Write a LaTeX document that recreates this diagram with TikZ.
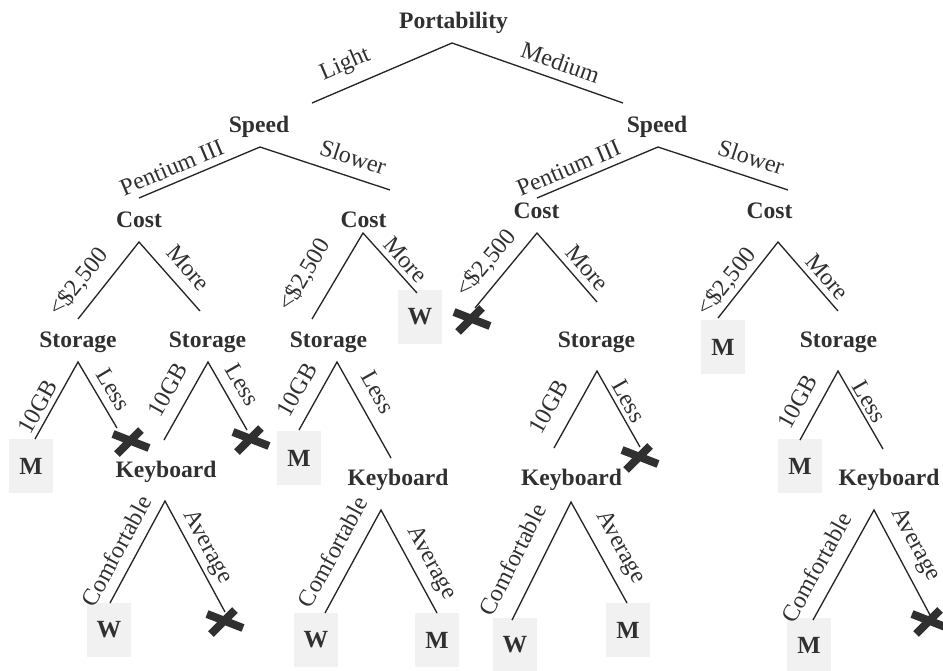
\documentclass[tikz,border=0pt]{standalone}
\usepackage{fontspec}
\setmainfont{Liberation Serif}
\usepackage{xcolor}
\definecolor{ink}{HTML}{303030}
\definecolor{wire}{HTML}{262626}
\definecolor{leafgray}{HTML}{F1F1F1}

\begin{document}
\begin{tikzpicture}[x=0.75pt,y=-0.75pt,
  attr/.style={anchor=base,inner sep=0pt,text=ink,font=\bfseries\fontsize{17.7}{20}\selectfont},
  leaf/.style={fill=leafgray,minimum width=33pt,minimum height=40pt,inner sep=0pt,text=ink,font=\bfseries\fontsize{18.5}{20}\selectfont},
  branch/.style={draw=wire,line width=1pt},
  lbl/.style={sloped,inner sep=2pt,text=ink,font=\fontsize{18}{20}\selectfont},
  nogo/.pic={\draw[ink,line width=6pt] (-18,-8)--(18,6) (-14,12)--(10,-12);}]
\useasboundingbox (0,0) rectangle (943,671);

\node[attr] (root) at (453.5,28) {Portability};
\node[attr] (spdL) at (259,132) {Speed}; \node[attr] (spdR) at (657,132) {Speed};
\node[attr] (costLL) at (139,227) {Cost}; \node[attr] (costLR) at (363.5,227) {Cost};
\node[attr] (costRL) at (536.5,218) {Cost}; \node[attr] (costRR) at (769.5,218) {Cost};
\node[attr] (stoA) at (78,347) {Storage}; \node[attr] (stoB) at (207.5,347) {Storage};
\node[attr] (stoC) at (328.5,347) {Storage}; \node[attr] (stoD) at (596.5,347) {Storage};
\node[attr] (stoE) at (838.5,347) {Storage};
\node[attr] (keyA) at (166,477) {Keyboard}; \node[attr] (keyB) at (398,485) {Keyboard};
\node[attr] (keyC) at (571.5,485) {Keyboard}; \node[attr] (keyD) at (889,485) {Keyboard};

\node[leaf] (wLR) at (420,317) {W}; \node[leaf] (mRR) at (723,347) {M};
\node[leaf] (mA) at (31,466) {M}; \node[leaf] (mC) at (299,458) {M}; \node[leaf] (mE) at (800,466) {M};
\node[leaf] (wKA) at (109,630) {W}; \node[leaf] (wKB) at (316,640) {W}; \node[leaf] (mKB) at (437,640) {M};
\node[leaf] (wKC) at (515,645) {W}; \node[leaf] (mKC) at (628,630) {M}; \node[leaf] (mKD) at (809,645) {M};

\foreach \n/\x/\y in {root-v/452/43,spdL-in/312/103,spdR-in/623/103,spdL-v/260/147,spdR-v/658/147,
  costLL-in/139/198,costLR-in/390/190,costRL-in/537/198,costRR-in/788/190,
  costLL-v/139/242,costLR-v/363/233,costRL-v/537/233,costRR-v/778/242,
  stoA-in/78/319,stoB-in/200/311,stoC-in/312/319,wLR-in/417/293,no1-in/475/308,stoD-in/597/302,mRR-in/718/318,stoE-in/838/311,
  stoA-v/78/362,stoB-v/208/362,stoC-v/337/362,stoD-v/597/371,stoE-v/838/371,
  mA-in/35/439,no2-in/117/428,keyA-in/164/440,no3-in/247/430,mC-in/299/430,keyB-in/391/458,
  keyC-in/554/448,no4-in/640/447,mE-in/800/440,keyD-in/883/449,
  keyA-v/165/501,keyB-v/381/510,keyC-v/571/502,keyD-v/874/510,
  wKA-in/110/603,no5-in/225/612,wKB-in/325/613,mKB-in/437/613,wKC-in/512/620,mKC-in/627/603,mKD-in/813/620,no6-in/930/615,
  no1/472/320,no2/131/442,no3/251/440,no4/640/458,no5/225/622,no6/930/622}
  \coordinate (\n) at (\x,\y);

\draw[branch] (spdL-in) -- node[lbl,pos=.30,above=6pt]{Light} (root-v) -- node[lbl,pos=.60,above=4.5pt]{Medium} (spdR-in);
\draw[branch] (costLL-in) -- node[lbl,pos=.32,above=3pt]{Pentium III} (spdL-v) -- node[lbl,pos=.67,above=6pt]{Slower} (costLR-in);
\draw[branch] (costRL-in) -- node[lbl,pos=.31,above=3pt]{Pentium III} (spdR-v) -- node[lbl,pos=.67,above=6pt]{Slower} (costRR-in);
\draw[branch] (stoA-in) -- node[lbl,pos=.30,above=6pt]{<\$2,500} (costLL-v) -- node[lbl,pos=.56,above=6.5pt]{More} (stoB-in);
\draw[branch] (stoC-in) -- node[lbl,pos=.34,above=11pt]{<\$2,500} (costLR-v) -- node[lbl,pos=.60,above=2pt]{More} (wLR-in);
\draw[branch] (no1-in) -- node[lbl,pos=.43,above=4.5pt]{<\$2,500} (costRL-v) -- node[lbl,pos=.65,above=3pt]{More} (stoD-in);
\draw[branch] (mRR-in) -- node[lbl,pos=.35,above=1pt]{<\$2,500} (costRR-v) -- node[lbl,pos=.64,above=2.5pt]{More} (stoE-in);
\draw[branch] (mA-in) -- node[lbl,pos=.33,above=1.5pt]{10GB} (stoA-v) -- node[lbl,pos=.55,above=4pt]{Less} (no2-in);
\draw[branch] (keyA-in) -- node[lbl,pos=.51,above=7.5pt]{10GB} (stoB-v) -- node[lbl,pos=.47,above=5.5pt]{Less} (no3-in);
\draw[branch] (mC-in) -- node[lbl,pos=.44,above=7.5pt]{10GB} (stoC-v) -- node[lbl,pos=.42,above=7pt]{Less} (keyB-in);
\draw[branch] (keyC-in) -- node[lbl,pos=.38,above=10pt]{10GB} (stoD-v) -- node[lbl,pos=.48,above=1pt]{Less} (no4-in);
\draw[branch] (mE-in) -- node[lbl,pos=.41,above=7pt]{10GB} (stoE-v) -- node[lbl,pos=.47,above=.5pt]{Less} (keyD-in);
\draw[branch] (wKA-in) -- node[lbl,pos=.42,above=5.5pt]{Comfortable} (keyA-v) -- node[lbl,pos=.48,above=1pt]{Average} (no5-in);
\draw[branch] (wKB-in) -- node[lbl,pos=.49,above=8pt]{Comfortable} (keyB-v) -- node[lbl,pos=.60,above=3.5pt]{Average} (mKB-in);
\draw[branch] (wKC-in) -- node[lbl,pos=.41,above=11pt]{Comfortable} (keyC-v) -- node[lbl,pos=.55,above=5.5pt]{Average} (mKC-in);
\draw[branch] (mKD-in) -- node[lbl,pos=.38,above=8pt]{Comfortable} (keyD-v) -- node[lbl,pos=.42,above=4.5pt]{Average} (no6-in);

\foreach \c in {no1,no2,no3,no4,no5,no6} \pic at (\c) {nogo};
\end{tikzpicture}
\end{document}
